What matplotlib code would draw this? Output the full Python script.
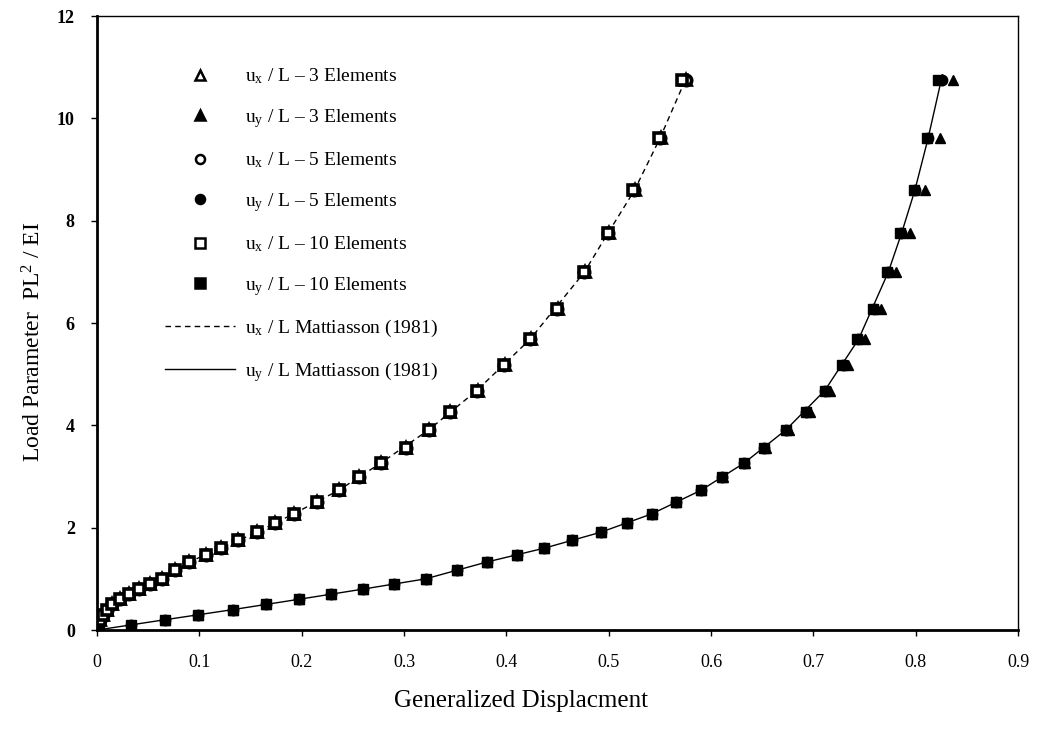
import matplotlib
matplotlib.use('Agg')
import matplotlib.pyplot as plt

plt.rcParams['font.family'] = ['Liberation Serif', 'DejaVu Serif']
plt.rcParams['mathtext.fontset'] = 'custom'
plt.rcParams['mathtext.rm'] = 'Liberation Serif'
plt.rcParams['mathtext.it'] = 'Liberation Serif:italic'

# load steps PL^2/EI
load = [0, 0.1, 0.2, 0.3, 0.4, 0.5, 0.6, 0.7, 0.8, 0.9, 1.0, 1.17, 1.33, 1.47,
        1.60, 1.75, 1.91, 2.10, 2.27, 2.50, 2.73, 2.99, 3.26, 3.56, 3.91, 4.27,
        4.68, 5.17, 5.68, 6.28, 6.99, 7.75, 8.59, 9.61, 10.74]

# 3 elements
ux_3 = [0, 0.0007, 0.0027, 0.006, 0.010, 0.015, 0.022, 0.031, 0.041, 0.052,
        0.063, 0.076, 0.090, 0.106, 0.121, 0.138, 0.156, 0.174, 0.192, 0.215,
        0.236, 0.256, 0.277, 0.302, 0.324, 0.345, 0.372, 0.399, 0.424, 0.450,
        0.477, 0.500, 0.526, 0.551, 0.575]
uy_3 = [0, 0.033, 0.066, 0.099, 0.133, 0.165, 0.197, 0.229, 0.260, 0.290,
        0.321, 0.352, 0.381, 0.410, 0.437, 0.464, 0.492, 0.518, 0.542, 0.566,
        0.590, 0.612, 0.633, 0.654, 0.676, 0.697, 0.716, 0.734, 0.750, 0.766,
        0.781, 0.794, 0.809, 0.824, 0.836]

# 5 elements
ux_5 = [0, 0.0007, 0.0027, 0.006, 0.010, 0.015, 0.022, 0.031, 0.041, 0.052,
        0.063, 0.076, 0.090, 0.106, 0.121, 0.138, 0.156, 0.174, 0.192, 0.215,
        0.236, 0.256, 0.277, 0.302, 0.324, 0.345, 0.371, 0.398, 0.423, 0.449,
        0.476, 0.499, 0.525, 0.550, 0.575]
uy_5 = [0, 0.033, 0.066, 0.099, 0.133, 0.165, 0.197, 0.229, 0.260, 0.290,
        0.321, 0.352, 0.381, 0.410, 0.437, 0.464, 0.492, 0.518, 0.542, 0.566,
        0.590, 0.611, 0.632, 0.652, 0.673, 0.693, 0.711, 0.729, 0.744, 0.759,
        0.773, 0.786, 0.799, 0.812, 0.826]

# 10 elements
ux_10 = [0, 0.0007, 0.0027, 0.006, 0.010, 0.015, 0.022, 0.031, 0.041, 0.052,
         0.063, 0.076, 0.090, 0.106, 0.121, 0.138, 0.156, 0.174, 0.192, 0.215,
         0.236, 0.256, 0.277, 0.302, 0.324, 0.345, 0.371, 0.398, 0.423, 0.449,
         0.476, 0.499, 0.524, 0.549, 0.572]
uy_10 = [0, 0.033, 0.066, 0.099, 0.133, 0.165, 0.197, 0.229, 0.260, 0.290,
         0.321, 0.352, 0.381, 0.410, 0.437, 0.464, 0.492, 0.518, 0.542, 0.566,
         0.590, 0.611, 0.632, 0.652, 0.673, 0.693, 0.711, 0.728, 0.743, 0.758,
         0.772, 0.785, 0.798, 0.811, 0.822]

# Mattiasson (1981) reference curves
matt_load = [0, 0.2, 0.4, 0.6, 0.8, 1.0, 1.33, 1.60, 1.91, 2.27, 2.73, 3.26,
             3.91, 4.68, 5.68, 6.99, 7.75, 8.59, 9.61, 10.85]
matt_ux = [0, 0.0027, 0.010, 0.022, 0.041, 0.063, 0.090, 0.121, 0.156, 0.192,
           0.236, 0.277, 0.324, 0.371, 0.423, 0.476, 0.499, 0.525, 0.550, 0.577]
matt_uy = [0, 0.066, 0.133, 0.197, 0.260, 0.321, 0.381, 0.437, 0.492, 0.542,
           0.590, 0.632, 0.673, 0.711, 0.744, 0.773, 0.786, 0.799, 0.812, 0.826]

fig = plt.figure(figsize=(10.4, 7.38), dpi=100)
ax = fig.add_axes([0.0933, 0.1463, 0.8857, 0.8320])

ms = 7.5
mw = 2.6
ax.plot(matt_ux, matt_load, color='black', lw=1.0, ls=(0, (4, 3)), zorder=1,
        label=r'u$_\mathrm{x}$ / L Mattiasson (1981)')
ax.plot(matt_uy, matt_load, color='black', lw=1.0, ls='-', zorder=1,
        label=r'u$_\mathrm{y}$ / L Mattiasson (1981)')

ax.plot(ux_3, load, ls='none', marker='^', ms=ms, mfc='white', mec='black', mew=mw,
        label=r'u$_\mathrm{x}$ / L $\endash$ 3 Elements')
ax.plot(uy_3, load, ls='none', marker='^', ms=ms, mfc='black', mec='black',
        label=r'u$_\mathrm{y}$ / L $\endash$ 3 Elements')
ax.plot(ux_5, load, ls='none', marker='o', ms=ms, mfc='white', mec='black', mew=mw,
        label=r'u$_\mathrm{x}$ / L $\endash$ 5 Elements')
ax.plot(uy_5, load, ls='none', marker='o', ms=ms, mfc='black', mec='black',
        label=r'u$_\mathrm{y}$ / L $\endash$ 5 Elements')
ax.plot(ux_10, load, ls='none', marker='s', ms=ms - 1, mfc='white', mec='black', mew=mw,
        label=r'u$_\mathrm{x}$ / L $\endash$ 10 Elements')
ax.plot(uy_10, load, ls='none', marker='s', ms=ms - 1, mfc='black', mec='black',
        label=r'u$_\mathrm{y}$ / L $\endash$ 10 Elements')

handles, labels = ax.get_legend_handles_labels()
order = [2, 3, 4, 5, 6, 7, 0, 1]
leg = ax.legend([handles[i] for i in order], [labels[i] for i in order],
                loc='upper left', bbox_to_anchor=(0.055, 0.946), frameon=False,
                fontsize=14, labelspacing=1.06, handlelength=3.6, handletextpad=0.5,
                numpoints=1)
for lh in leg.legend_handles[:6]:
    lh.set_markersize(6.5)
    lh.set_markeredgewidth(1.8)

ax.set_xlim(0, 0.9)
ax.set_ylim(0, 12)
ax.set_xticks([0, 0.1, 0.2, 0.3, 0.4, 0.5, 0.6, 0.7, 0.8, 0.9])
ax.set_xticklabels(['0', '0.1', '0.2', '0.3', '0.4', '0.5', '0.6', '0.7', '0.8', '0.9'])
ax.set_yticks([0, 2, 4, 6, 8, 10, 12])
ax.tick_params(axis='x', direction='out', length=4, width=1, pad=13, labelsize=13)
ax.tick_params(axis='y', direction='out', length=4, width=1, pad=12, labelsize=13)
for t in ax.get_yticklabels():
    t.set_fontweight('bold')

ax.spines['left'].set_linewidth(2)
ax.spines['bottom'].set_linewidth(2)
ax.spines['top'].set_linewidth(1)
ax.spines['right'].set_linewidth(1)

ax.set_xlabel('Generalized Displacment', fontsize=18)
ax.set_ylabel(r'Load Parameter  PL$^{2}$ / EI', fontsize=17)
ax.xaxis.set_label_coords(0.46, -0.097)
ax.yaxis.set_label_coords(-0.056, 0.47)

fig.savefig('out.png', dpi=100, facecolor='white')
